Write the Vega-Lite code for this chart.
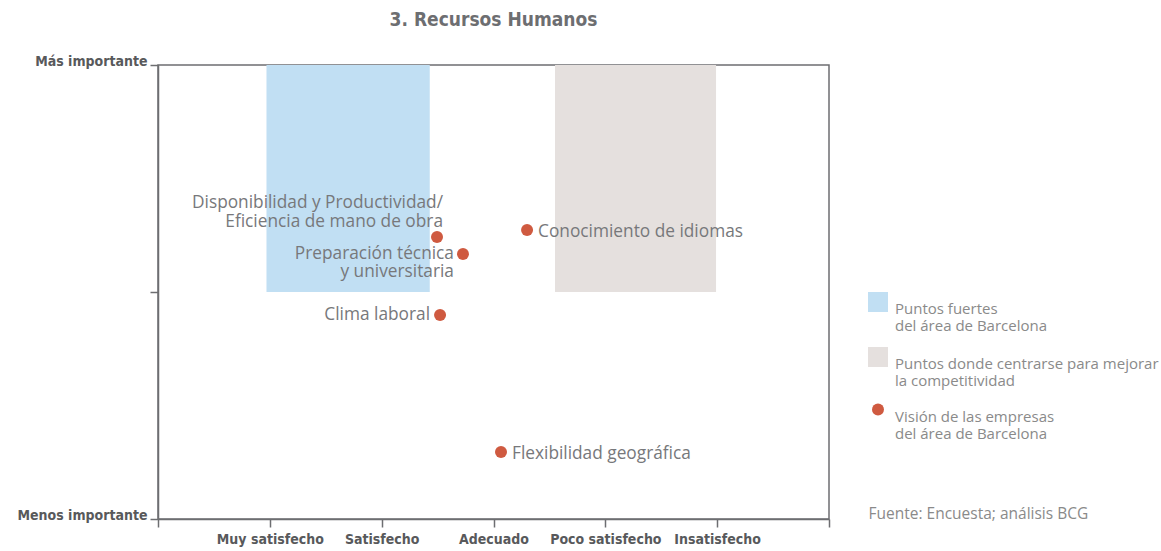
{
  "$schema": "https://vega.github.io/schema/vega-lite/v6.json",
  "width": 671,
  "height": 454,
  "autosize": {"type": "none"},
  "padding": {"left": 158, "top": 65, "right": 332, "bottom": 32},
  "background": "white",
  "title": {
    "text": "3. Recursos Humanos",
    "font": "DejaVu Sans Condensed",
    "fontSize": 19,
    "fontWeight": "bold",
    "color": "#6d6e71",
    "anchor": "middle",
    "frame": "group",
    "offset": 24
  },
  "config": {
    "view": {"stroke": "#6d6e71", "strokeWidth": 1.5},
    "axis": {"grid": false, "domainColor": "#6d6e71", "domainWidth": 1.5, "tickColor": "#6d6e71", "tickWidth": 1.5}
  },
  "datasets": {
    "zonas": [
      {"tipo": "Puntos fuertes|del área de Barcelona", "x0": 0.97, "x1": 2.43, "y0": 1, "y1": 2},
      {"tipo": "Puntos donde centrarse para mejorar|la competitividad", "x0": 3.55, "x1": 4.99, "y0": 1, "y1": 2}
    ],
    "puntos": [
      {"nombre": "Disponibilidad y Productividad/|Eficiencia de mano de obra", "grupo": "arriba", "tipo": "Visión de las empresas|del área de Barcelona", "x": 2.495, "y": 1.242},
      {"nombre": "Preparación técnica|y universitaria", "grupo": "izqdos", "tipo": "Visión de las empresas|del área de Barcelona", "x": 2.727, "y": 1.167},
      {"nombre": "Conocimiento de idiomas", "grupo": "derecha", "tipo": "Visión de las empresas|del área de Barcelona", "x": 3.30, "y": 1.273},
      {"nombre": "Clima laboral", "grupo": "izquierda", "tipo": "Visión de las empresas|del área de Barcelona", "x": 2.522, "y": 0.899},
      {"nombre": "Flexibilidad geográfica", "grupo": "derecha", "tipo": "Visión de las empresas|del área de Barcelona", "x": 3.067, "y": 0.295}
    ]
  },
  "layer": [
    {
      "data": {"name": "zonas"},
      "mark": {"type": "rect"},
      "encoding": {
        "x": {
          "field": "x0", "type": "quantitative",
          "scale": {"domain": [0, 6], "nice": false, "zero": false},
          "axis": {
            "values": [0, 1, 2, 3, 4, 5, 6],
            "labelExpr": "datum.value == 1 ? 'Muy satisfecho' : datum.value == 2 ? 'Satisfecho' : datum.value == 3 ? 'Adecuado' : datum.value == 4 ? 'Poco satisfecho' : datum.value == 5 ? 'Insatisfecho' : ''",
            "labelFont": "DejaVu Sans Condensed",
            "labelFontSize": 14,
            "labelFontWeight": "bold",
            "labelColor": "#58595b",
            "labelPadding": 5,
            "tickSize": 8,
            "title": "Fuente: Encuesta; análisis BCG",
            "titleFont": "Open Sans",
            "titleFontSize": 15.5,
            "titleFontWeight": "normal",
            "titleColor": "#8a8a8a",
            "titleAnchor": "start",
            "titleAlign": "left",
            "titleBaseline": "middle",
            "titleX": 710,
            "titleY": -6
          }
        },
        "x2": {"field": "x1"},
        "y": {
          "field": "y0", "type": "quantitative",
          "scale": {"domain": [0, 2], "nice": false, "zero": false},
          "axis": {
            "values": [0, 1, 2],
            "labelExpr": "datum.value == 2 ? 'Más importante' : datum.value == 0 ? 'Menos importante' : ''",
            "labelFont": "DejaVu Sans Condensed",
            "labelFontSize": 14,
            "labelFontWeight": "bold",
            "labelColor": "#58595b",
            "labelBaseline": "alphabetic",
            "labelPadding": 3,
            "tickSize": 8,
            "title": null
          }
        },
        "y2": {"field": "y1"},
        "color": {
          "field": "tipo", "type": "nominal",
          "scale": {
            "domain": ["Puntos fuertes|del área de Barcelona", "Puntos donde centrarse para mejorar|la competitividad", "Visión de las empresas|del área de Barcelona"],
            "range": ["#c1dff3", "#e5e0de", "#cf5a40"]
          },
          "legend": {
            "title": null,
            "orient": "none",
            "legendX": 710,
            "legendY": 227,
            "labelExpr": "split(datum.label, '|')",
            "labelFont": "Open Sans",
            "labelFontSize": 15,
            "labelColor": "#8a8a8a",
            "labelBaseline": "top",
            "labelOffset": 7,
            "labelLimit": 400,
            "rowPadding": 13,
            "symbolOpacity": 1,
            "symbolStrokeWidth": 0
          }
        }
      }
    },
    {
      "mark": {"type": "rule", "color": "#29abe2", "strokeWidth": 2, "strokeDash": [2, 3]},
      "encoding": {"x": {"datum": 3, "type": "quantitative"}}
    },
    {
      "mark": {"type": "rule", "color": "#29abe2", "strokeWidth": 2, "strokeDash": [2, 3]},
      "encoding": {"y": {"datum": 1, "type": "quantitative"}}
    },
    {
      "data": {"name": "puntos"},
      "mark": {"type": "point", "filled": true, "opacity": 1},
      "encoding": {
        "x": {"field": "x", "type": "quantitative"},
        "y": {"field": "y", "type": "quantitative"},
        "color": {"field": "tipo", "type": "nominal"},
        "shape": {
          "field": "tipo", "type": "nominal",
          "scale": {
            "domain": ["Puntos fuertes|del área de Barcelona", "Puntos donde centrarse para mejorar|la competitividad", "Visión de las empresas|del área de Barcelona"],
            "range": ["square", "square", "circle"]
          }
        },
        "size": {
          "field": "tipo", "type": "nominal",
          "scale": {
            "type": "ordinal",
            "domain": ["Puntos fuertes|del área de Barcelona", "Puntos donde centrarse para mejorar|la competitividad", "Visión de las empresas|del área de Barcelona"],
            "range": [400, 400, 144]
          }
        }
      }
    },
    {
      "data": {"name": "puntos"},
      "transform": [{"filter": "datum.grupo == 'arriba'"}],
      "mark": {"type": "text", "font": "Open Sans", "fontSize": 17.3, "color": "#77787b", "align": "right", "baseline": "bottom", "dx": 6, "dy": -25, "lineBreak": "|", "lineHeight": 19},
      "encoding": {
        "x": {"field": "x", "type": "quantitative"},
        "y": {"field": "y", "type": "quantitative"},
        "text": {"field": "nombre"}
      }
    },
    {
      "data": {"name": "puntos"},
      "transform": [{"filter": "datum.grupo == 'izqdos'"}],
      "mark": {"type": "text", "font": "Open Sans", "fontSize": 17.3, "color": "#77787b", "align": "right", "baseline": "top", "dx": -9, "dy": -9, "lineBreak": "|", "lineHeight": 18},
      "encoding": {
        "x": {"field": "x", "type": "quantitative"},
        "y": {"field": "y", "type": "quantitative"},
        "text": {"field": "nombre"}
      }
    },
    {
      "data": {"name": "puntos"},
      "transform": [{"filter": "datum.grupo == 'izquierda'"}],
      "mark": {"type": "text", "font": "Open Sans", "fontSize": 17.3, "color": "#77787b", "align": "right", "baseline": "middle", "dx": -10, "dy": 0},
      "encoding": {
        "x": {"field": "x", "type": "quantitative"},
        "y": {"field": "y", "type": "quantitative"},
        "text": {"field": "nombre"}
      }
    },
    {
      "data": {"name": "puntos"},
      "transform": [{"filter": "datum.grupo == 'derecha'"}],
      "mark": {"type": "text", "font": "Open Sans", "fontSize": 17.3, "color": "#77787b", "align": "left", "baseline": "middle", "dx": 11, "dy": 2},
      "encoding": {
        "x": {"field": "x", "type": "quantitative"},
        "y": {"field": "y", "type": "quantitative"},
        "text": {"field": "nombre"}
      }
    }
  ]
}
